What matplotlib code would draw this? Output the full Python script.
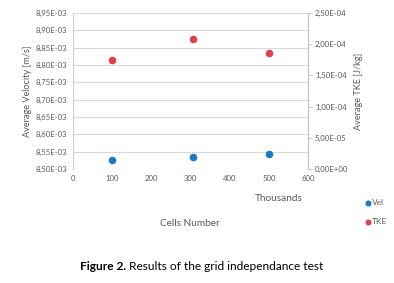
import matplotlib
matplotlib.use("Agg")
import matplotlib.pyplot as plt
from matplotlib.ticker import FuncFormatter, MultipleLocator

plt.rcParams['font.family'] = ['Lato', 'DejaVu Sans']

# cells in thousands
cells = [100, 307, 501]
vel = [8.525e-3, 8.5355e-3, 8.544e-3]
tke = [1.742e-4, 2.088e-4, 1.859e-4]

grey = "#595959"
blue = "#1f7bbf"
red = "#e0414c"


def sci_comma(v, pos):
    return ("%.2E" % v).replace(".", ",")


fig = plt.figure(figsize=(3.94, 2.83), dpi=100)
ax = fig.add_axes([0.185, 0.403, 0.597, 0.551])
ax2 = ax.twinx()

ax.scatter(cells, vel, s=20, color=blue, zorder=3, label="Vel")
ax2.scatter(cells, tke, s=20, color=red, zorder=3, label="TKE")

ax.set_xlim(0, 600)
ax.set_ylim(8.50e-3, 8.95e-3)
ax2.set_ylim(0, 2.5e-4)
ax.xaxis.set_major_locator(MultipleLocator(100))
ax.yaxis.set_major_locator(MultipleLocator(0.05e-3))
ax2.yaxis.set_major_locator(MultipleLocator(5e-5))
ax.yaxis.set_major_formatter(FuncFormatter(sci_comma))
ax2.yaxis.set_major_formatter(FuncFormatter(sci_comma))

ax.grid(axis="y", color="#d9d9d9", linewidth=0.8)
ax.set_axisbelow(True)
for a in (ax, ax2):
    for s in ("top", "bottom"):
        a.spines[s].set_visible(False)
ax.spines["right"].set_visible(False)
ax.spines["left"].set_color("#d0d0d0")
ax2.spines["left"].set_visible(False)
ax2.spines["right"].set_color("#bfbfbf")

ax.tick_params(axis="both", length=0, labelsize=5.6, colors=grey, pad=4)
ax2.tick_params(axis="y", length=3, width=0.6, color="#bfbfbf",
                labelsize=5.6, labelcolor=grey, pad=2)

ax.set_ylabel("Average Velocity [m/s]", fontsize=6.6, color=grey, labelpad=3)
ax2.set_ylabel("Average TKE [J/kg]", fontsize=6.6, color=grey, labelpad=4)

fig.text(0.708, 0.297, "Thousands", fontsize=7.2, color=grey, ha="center", va="center")
fig.text(0.483, 0.212, "Cells Number", fontsize=7.2, color=grey, ha="center", va="center")

h1, l1 = ax.get_legend_handles_labels()
h2, l2 = ax2.get_legend_handles_labels()
fig.legend(h1 + h2, l1 + l2, loc="center left", bbox_to_anchor=(0.915, 0.25),
           frameon=False, fontsize=6, labelcolor=grey, handletextpad=0.15,
           markerscale=0.75, labelspacing=1.5, handlelength=0.7, borderpad=0)

fig.canvas.draw()
t1 = fig.text(0.203, 0.06, "Figure 2.", fontsize=8.6, fontweight="bold",
              ha="left", va="center")
bb = t1.get_window_extent(fig.canvas.get_renderer())
x2 = fig.transFigure.inverted().transform((bb.x1, bb.y0))[0]
fig.text(x2, 0.06, " Results of the grid independance test", fontsize=8.6,
         ha="left", va="center")

fig.savefig("out.png", dpi=100)
